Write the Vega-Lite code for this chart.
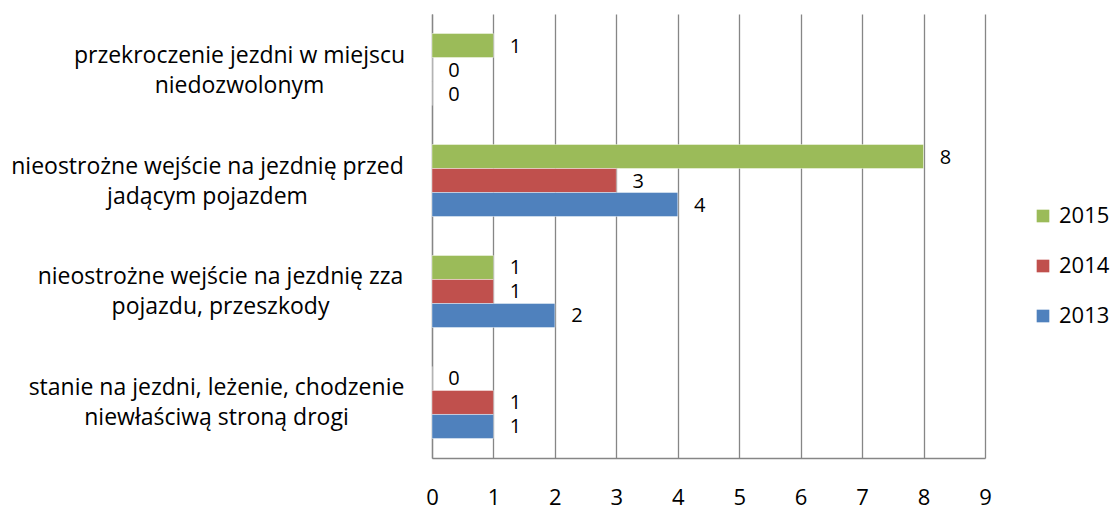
{
  "$schema": "https://vega.github.io/schema/vega-lite/v6.json",
  "width": 553,
  "height": 444,
  "autosize": {"type": "none"},
  "padding": {"left": 432, "top": 14, "right": 126, "bottom": 51},
  "background": "white",
  "config": {
    "view": {"stroke": null},
    "font": "Open Sans",
    "text": {"font": "Open Sans"}
  },
  "data": {
    "values": [
      {"category": "przekroczenie jezdni w miejscu niedozwolonym", "year": "2015", "value": 1},
      {"category": "przekroczenie jezdni w miejscu niedozwolonym", "year": "2014", "value": 0},
      {"category": "przekroczenie jezdni w miejscu niedozwolonym", "year": "2013", "value": 0},
      {"category": "nieostrożne wejście na jezdnię przed jadącym pojazdem", "year": "2015", "value": 8},
      {"category": "nieostrożne wejście na jezdnię przed jadącym pojazdem", "year": "2014", "value": 3},
      {"category": "nieostrożne wejście na jezdnię przed jadącym pojazdem", "year": "2013", "value": 4},
      {"category": "nieostrożne wejście na jezdnię zza pojazdu, przeszkody", "year": "2015", "value": 1},
      {"category": "nieostrożne wejście na jezdnię zza pojazdu, przeszkody", "year": "2014", "value": 1},
      {"category": "nieostrożne wejście na jezdnię zza pojazdu, przeszkody", "year": "2013", "value": 2},
      {"category": "stanie na jezdni, leżenie, chodzenie niewłaściwą stroną drogi", "year": "2015", "value": 0},
      {"category": "stanie na jezdni, leżenie, chodzenie niewłaściwą stroną drogi", "year": "2014", "value": 1},
      {"category": "stanie na jezdni, leżenie, chodzenie niewłaściwą stroną drogi", "year": "2013", "value": 1}
    ]
  },
  "encoding": {
    "y": {
      "field": "category",
      "type": "nominal",
      "sort": null,
      "scale": {"paddingInner": 0.351, "paddingOuter": 0.176},
      "axis": {
        "title": null,
        "ticks": false,
        "domain": true,
        "domainColor": "#868686",
        "domainWidth": 1.3,
        "labelFont": "Open Sans",
        "labelFontSize": 23,
        "labelColor": "#000000",
        "labelAlign": "center",
        "labelBaseline": "middle",
        "labelPadding": {"expr": "datum.value == 'przekroczenie jezdni w miejscu niedozwolonym' ? 193 : datum.value == 'nieostrożne wejście na jezdnię przed jadącym pojazdem' ? 225 : datum.value == 'nieostrożne wejście na jezdnię zza pojazdu, przeszkody' ? 212 : 216"},
        "labelOffset": -14,
        "labelLineHeight": 30,
        "labelLimit": 500,
        "labelExpr": "datum.value == 'przekroczenie jezdni w miejscu niedozwolonym' ? ['przekroczenie jezdni w miejscu', 'niedozwolonym'] : datum.value == 'nieostrożne wejście na jezdnię przed jadącym pojazdem' ? ['nieostrożne wejście na jezdnię przed', 'jadącym pojazdem'] : datum.value == 'nieostrożne wejście na jezdnię zza pojazdu, przeszkody' ? ['nieostrożne wejście na jezdnię zza', 'pojazdu, przeszkody'] : ['stanie na jezdni, leżenie, chodzenie', 'niewłaściwą stroną drogi']"
      }
    },
    "yOffset": {"field": "year", "type": "nominal", "sort": ["2015", "2014", "2013"]}
  },
  "layer": [
    {
      "mark": {"type": "bar", "stroke": "#ffffff", "strokeWidth": 0.6, "strokeOpacity": 0.7},
      "encoding": {
        "x": {
          "field": "value",
          "type": "quantitative",
          "scale": {"domain": [0, 9], "nice": false},
          "axis": {
            "title": null,
            "values": [0, 1, 2, 3, 4, 5, 6, 7, 8, 9],
            "format": "d",
            "grid": true,
            "gridColor": "#868686",
            "gridWidth": 1.3,
            "ticks": false,
            "domain": true,
            "domainColor": "#868686",
            "domainWidth": 1.3,
            "labelFont": "Open Sans",
            "labelFontSize": 22,
            "labelColor": "#000000",
            "labelPadding": 29,
            "labelFlush": false
          }
        },
        "color": {
          "field": "year",
          "type": "nominal",
          "scale": {"domain": ["2015", "2014", "2013"], "range": ["#9BBB59", "#C0504D", "#4F81BD"]},
          "legend": {
            "title": null,
            "orient": "none",
            "legendX": 600,
            "legendY": 191,
            "symbolType": "square",
            "symbolSize": 160,
            "symbolStrokeWidth": 0,
            "labelFont": "Open Sans",
            "labelFontSize": 22,
            "labelColor": "#000000",
            "labelOffset": 5,
            "rowPadding": 28
          }
        }
      }
    },
    {
      "mark": {"type": "text", "align": "center", "baseline": "middle", "dx": 22, "dy": 1, "fontSize": 20, "font": "Open Sans", "color": "#000000"},
      "encoding": {
        "x": {"field": "value", "type": "quantitative"},
        "text": {"field": "value", "type": "quantitative"}
      }
    }
  ]
}
